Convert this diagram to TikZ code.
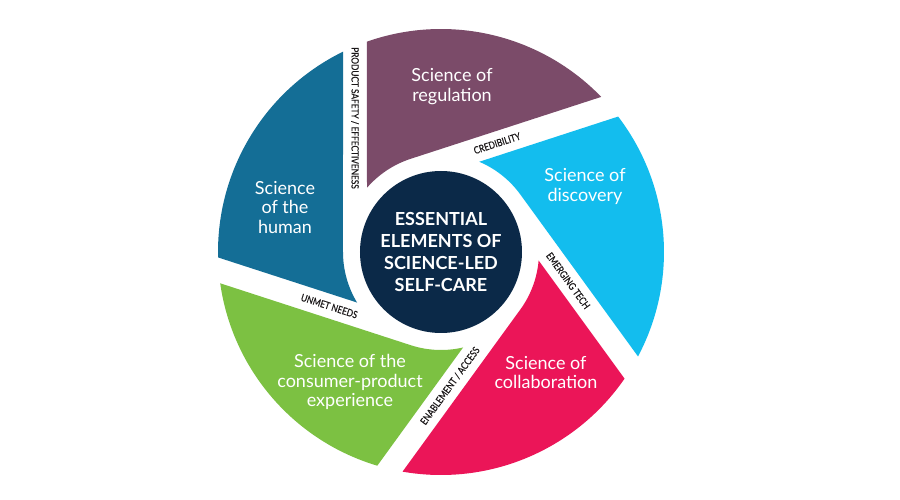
\documentclass[tikz,border=0pt]{standalone}
\usepackage{fontspec}
\setmainfont{Lato}
\newfontfamily\gapfont[FakeBold=0.4]{Lato}
\definecolor{cpurple}{HTML}{7B4B69}
\definecolor{ccyan}{HTML}{13BDEE}
\definecolor{cpink}{HTML}{EB1558}
\definecolor{cgreen}{HTML}{7CC142}
\definecolor{cblue}{HTML}{146E96}
\definecolor{cnavy}{HTML}{0B2948}
\definecolor{ctext}{HTML}{1A1718}
\tikzset{
  bladetext/.style={text=white, align=center, inner sep=0pt, font=\fontsize{18}{19.5}\selectfont},
  gaplabel/.style={text=ctext, inner sep=0pt, font=\gapfont\fontsize{10}{10}\selectfont},
  corenode/.style={circle, fill=cnavy, minimum size=162pt, inner sep=0pt, text=white, align=center, font=\bfseries\fontsize{18}{22}\selectfont}
}
\newcommand{\gaptxt}[1]{\scalebox{0.83}[1]{#1}}
\begin{document}
\begin{tikzpicture}[x=1pt,y=1pt]
\useasboundingbox[fill=white] (-441,-248) rectangle (459,252);
% shutter blades
\foreach \t/\c in {90/cpurple,18/ccyan,-54/cpink,-126/cgreen,162/cblue}{
  \fill[\c] ({\t+19.4}:223pt) arc[start angle={\t+19.4}, end angle={\t-45.93}, radius=223pt]
     -- ({\t+18}:98pt) arc[start angle={\t+18}, end angle={\t+49.03}, radius=98pt] -- cycle;
}
% centre
\node[corenode] (core) at (0,0) {ESSENTIAL\\ELEMENTS OF\\SCIENCE-LED\\SELF-CARE};
% blade texts
\node[bladetext] (reg) at (11,165.5) {Science of\\regulation};
\node[bladetext] (disc) at (144,65.5) {Science of\\discovery};
\node[bladetext] (hum) at (-156,44.5) {Science\\of the\\human};
\node[bladetext] (cons) at (-91,-130) {Science of the\\consumer-product\\experience};
\node[bladetext] (coll) at (105,-120.5) {Science of\\collaboration};
% gap labels
\node[gaplabel, rotate=-90] (safety) at (-86,134) {\gaptxt{PRODUCT SAFETY / EFFECTIVENESS}};
\node[gaplabel, rotate=18] (cred) at (56.1,108.7) {\gaptxt{CREDIBILITY}};
\node[gaplabel, rotate=-54] (tech) at (127.2,-28.7) {\gaptxt{EMERGING TECH}};
\node[gaplabel, rotate=54] (enable) at (9,-133.9) {\gaptxt{ENABLEMENT / ACCESS}};
\node[gaplabel, rotate=-18] (unmet) at (-111.7,-54.1) {\gaptxt{UNMET NEEDS}};
\end{tikzpicture}
\end{document}
